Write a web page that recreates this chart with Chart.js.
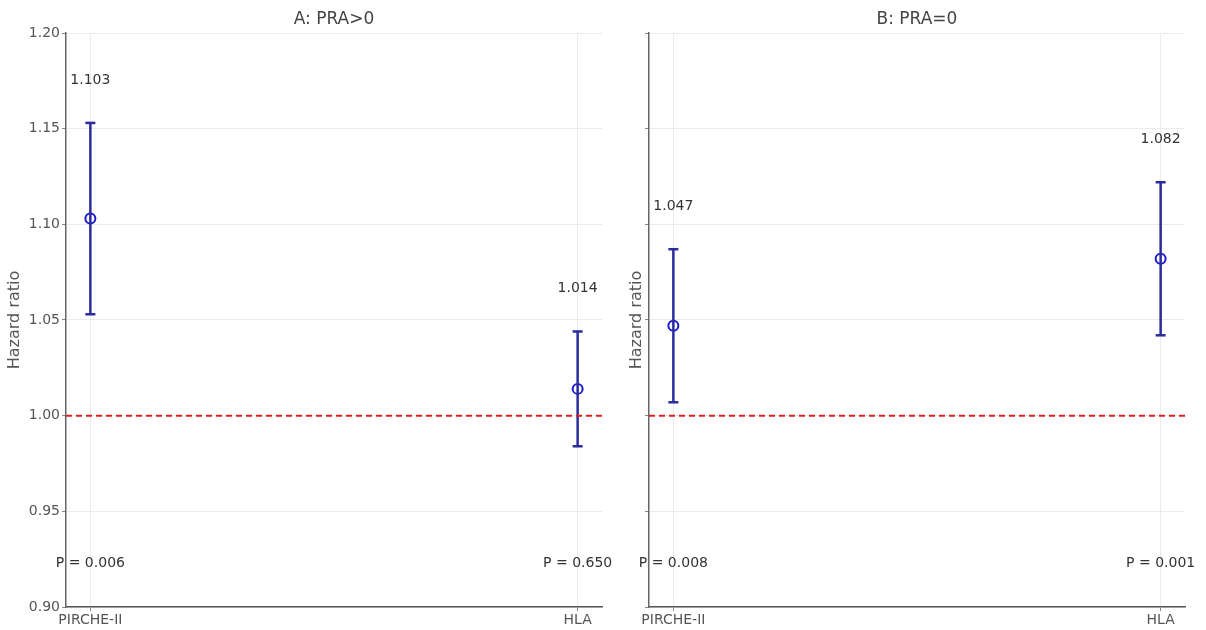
<!DOCTYPE html>
<html>
<head>
<meta charset="utf-8">
<script src="https://cdn.jsdelivr.net/npm/chart.js@4"></script>
<style>
  body { margin: 0; background: #fff; width: 1206px; height: 630px; position: relative; overflow: hidden; }
  canvas { position: absolute; top: 0; }
  #chartA { left: 0; }
  #chartB { left: 610px; }
</style>
</head>
<body>
<canvas id="chartA" width="630" height="630"></canvas>
<canvas id="chartB" width="596" height="630"></canvas>
<script>
const categories = ["PIRCHE-II", "HLA"];
const yTicks = [0.90, 0.95, 1.00, 1.05, 1.10, 1.15, 1.20];

// panel A: PRA>0
const hrA = [1.103, 1.014];
const lowA = [1.053, 0.984];
const highA = [1.153, 1.044];
const pA = ["P = 0.006", "P = 0.650"];

// panel B: PRA=0
const hrB = [1.047, 1.082];
const lowB = [1.007, 1.042];
const highB = [1.087, 1.122];
const pB = ["P = 0.008", "P = 0.001"];

const font = "DejaVu Sans";
const barColor = "#2b2b9e";
const dotColor = "#1a1ad0";

// panel title, value labels above the bars and p-values
const labelsPlugin = {
    id: "labels",
    afterDatasetsDraw(chart, args, opts) {
        const ctx = chart.ctx;
        const xs = chart.scales.x, ys = chart.scales.y;
        const area = chart.chartArea;
        ctx.save();
        ctx.textAlign = "center";
        ctx.textBaseline = "middle";
        ctx.font = "17px " + font;
        ctx.fillStyle = "#444";
        ctx.fillText(opts.title, (area.left + area.right) / 2, 20);
        ctx.font = "14px " + font;
        ctx.fillStyle = "#333";
        opts.hr.forEach((v, i) => {
            ctx.fillText(v.toFixed(3), xs.getPixelForValue(i), ys.getPixelForValue(opts.high[i]) - 43);
            ctx.fillText(opts.p[i], xs.getPixelForValue(i), ys.getPixelForValue(0.923));
        });
        ctx.restore();
    }
};

function makeChart(canvasId, title, hr, low, high, p, showTickLabels, yWidth, titlePad, padRight) {
    let datasets = [];
    // red reference line at 1
    datasets.push({
        type: "line",
        data: [{x: -0.05, y: 1}, {x: 1.05, y: 1}],
        borderColor: "#e02020",
        borderWidth: 2,
        borderDash: [6, 4],
        pointRadius: 0,
        showLine: true
    });
    // error bars
    hr.forEach((v, i) => {
        datasets.push({
            type: "line",
            data: [{x: i, y: low[i]}, {x: i, y: high[i]}],
            borderColor: barColor,
            borderWidth: 2.5,
            showLine: true,
            pointStyle: "line",
            pointRadius: 5,
            pointBorderColor: barColor,
            pointBorderWidth: 2.5
        });
    });
    // point estimates
    datasets.push({
        data: hr.map((v, i) => ({x: i, y: v})),
        pointStyle: "circle",
        pointRadius: 5,
        pointBackgroundColor: "#fff",
        pointBorderColor: dotColor,
        pointBorderWidth: 2
    });

    return new Chart(document.getElementById(canvasId), {
        type: "scatter",
        data: { datasets: datasets },
        options: {
            responsive: false,
            animation: false,
            layout: { padding: { left: 0, right: padRight, top: 33, bottom: 0 } },
            plugins: {
                legend: { display: false },
                tooltip: { enabled: false },
                title: { display: false },
                labels: { title: title, hr: hr, high: high, p: p }
            },
            scales: {
                x: {
                    type: "linear",
                    min: -0.05,
                    max: 1.05,
                    afterBuildTicks: (axis) => { axis.ticks = categories.map((c, i) => ({value: i})); },
                    afterFit: (axis) => { axis.height = 23; },
                    ticks: {
                        callback: (v) => categories[v],
                        color: "#555",
                        font: { family: font, size: 14 },
                        padding: 1,
                        maxRotation: 0
                    },
                    grid: { color: "#ebebeb", tickLength: 4, tickColor: "#888" },
                    border: { color: "#555", width: 1.5 }
                },
                y: {
                    min: 0.9,
                    max: 1.2,
                    afterBuildTicks: (axis) => { axis.ticks = yTicks.map(v => ({value: v})); },
                    afterFit: (axis) => { axis.width = yWidth; },
                    ticks: {
                        display: showTickLabels,
                        callback: (v) => v.toFixed(2),
                        color: "#555",
                        font: { family: font, size: 14 },
                        padding: 2
                    },
                    grid: { color: "#ebebeb", tickLength: 4, tickColor: "#888" },
                    border: { color: "#666", width: 1.5 },
                    title: {
                        display: true,
                        text: "Hazard ratio",
                        color: "#555",
                        font: { family: font, size: 16 },
                        padding: { top: titlePad, bottom: 0 }
                    }
                }
            }
        },
        plugins: [labelsPlugin]
    });
}

const chartA = makeChart("chartA", "A: PRA>0", hrA, lowA, highA, pA, true, 66, 5, 28);
const chartB = makeChart("chartB", "B: PRA=0", hrB, lowB, highB, pB, false, 39, 17, 21);
</script>
</body>
</html>
